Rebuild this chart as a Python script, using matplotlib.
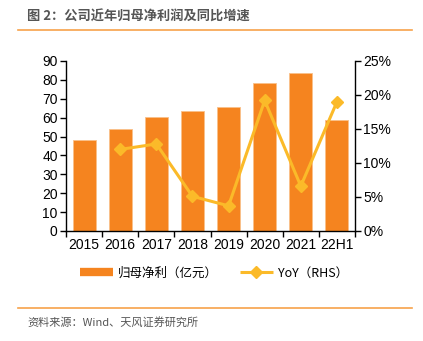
import matplotlib
matplotlib.use("Agg")
import matplotlib.pyplot as plt
from matplotlib.lines import Line2D
import numpy as np

categories = ["2015", "2016", "2017", "2018", "2019", "2020", "2021", "22H1"]
net_profit = [48.2, 53.8, 60.5, 63.7, 65.8, 78.5, 83.5, 58.6]
yoy_pct = [None, 12.0, 12.8, 5.1, 3.7, 19.2, 6.6, 19.0]
left_ticks = list(range(0, 91, 10))
right_ticks = [0, 5, 10, 15, 20, 25]

bar_color = "#F5841F"
line_color = "#FBBA29"
rule_color = "#F7A24A"

plt.rcParams['font.family'] = ['Liberation Sans', 'Noto Sans CJK SC', 'DejaVu Sans']

fig = plt.figure(figsize=(4.23, 3.41), dpi=100)
ax = fig.add_axes([66/423, 1-231/341, (355-66)/423, (231-61)/341])

x = np.arange(len(categories))
ax.bar(x, net_profit, width=0.64, color=bar_color, edgecolor="#F9C08A", linewidth=0.6, zorder=2)
ax.set_xlim(-0.5, len(categories) - 0.5)
ax.set_ylim(0, 90)
ax.set_yticks(left_ticks)
ax.set_xticks(x)
ax.set_xticklabels(categories)
ax.set_xticks(np.arange(-0.5, len(categories), 1.0), minor=True)
ax.tick_params(axis='x', which='major', length=0, labelsize=10, pad=5)
ax.tick_params(axis='x', which='minor', length=4, width=1, direction='out')
ax.tick_params(axis='y', length=4, width=1, direction='out', labelsize=10, pad=2)
for s in ["top", "right"]:
    ax.spines[s].set_visible(False)
ax.spines["left"].set_linewidth(1)
ax.spines["bottom"].set_linewidth(1)

ax2 = ax.twinx()
xs = [i for i, v in enumerate(yoy_pct) if v is not None]
ys = [v for v in yoy_pct if v is not None]
ax2.plot(xs, ys, color=line_color, linewidth=2.2, marker="D", markersize=6.5, zorder=3)
ax2.set_ylim(0, 25)
ax2.set_yticks(right_ticks)
ax2.set_yticklabels([f"{t}%" for t in right_ticks])
ax2.tick_params(axis='y', length=4, width=1, direction='out', labelsize=10, pad=2)
for s in ["top", "left", "bottom"]:
    ax2.spines[s].set_visible(False)
ax2.spines["right"].set_linewidth(1)

handles = [
    Line2D([0], [0], color=bar_color, linewidth=6, solid_capstyle='butt'),
    Line2D([0], [0], color=line_color, linewidth=2.2, marker="D", markersize=6,
           solid_capstyle='butt'),
]
fig.legend(handles, ["归母净利（亿元）", "YoY（RHS）"], loc="center",
           bbox_to_anchor=(214/423, 1-273/341), ncol=2, frameon=False,
           handlelength=2.6, handletextpad=0.4, columnspacing=1.8,
           prop={'family': ['Noto Sans CJK SC', 'DejaVu Sans'], 'size': 9})

fig.text(27/423, 1-17/341, "图 2：公司近年归母净利润及同比增速", fontsize=9.5,
         color="#555555", va="center", ha="left", fontweight="bold",
         family=['Noto Sans CJK SC', 'DejaVu Sans'])
fig.add_artist(Line2D([18/423, 412/423], [1-30/341, 1-30/341], color=rule_color, linewidth=1.2))
fig.add_artist(Line2D([18/423, 412/423], [1-308/341, 1-308/341], color=rule_color, linewidth=1.2))
fig.text(27/423, 1-322/341, "资料来源：Wind、天风证券研究所", fontsize=8,
         color="#555555", va="center", ha="left",
         family=['Noto Sans CJK SC', 'DejaVu Sans'])

fig.savefig("out.png", dpi=100)
